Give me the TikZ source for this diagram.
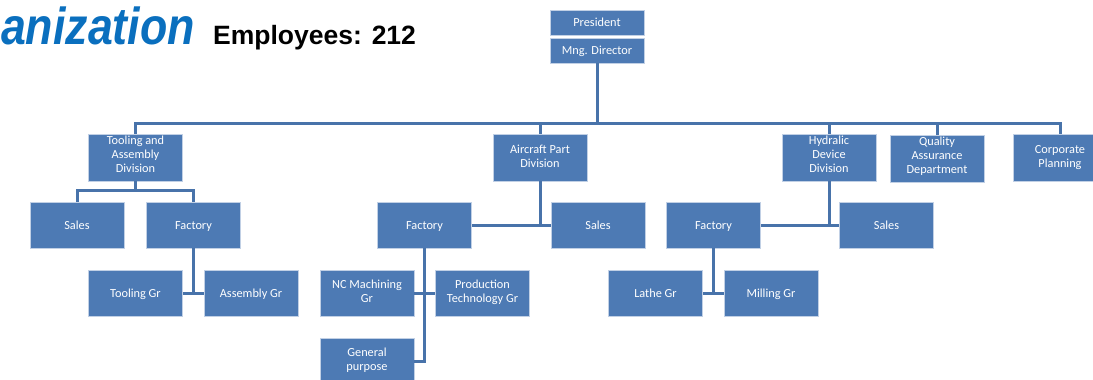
\documentclass[tikz,border=0pt]{standalone}
\usepackage{fontspec}
\setmainfont{Carlito}
\newfontfamily\arialfont{Liberation Sans}
\definecolor{boxblue}{HTML}{4D7AB4}
\definecolor{lineblue}{HTML}{4873AA}
\definecolor{titleblue}{HTML}{0A6FBE}
\tikzset{
  orgbox/.style={rectangle, fill=boxblue, draw=white!65!boxblue, line width=0.8pt,
    text=white, font=\fontsize{12.3}{14}\selectfont, align=center,
    minimum width=94pt, minimum height=46pt, inner sep=1pt,
    execute at begin node={\rule{0pt}{11.3pt}},
    execute at end node={\rule[-2.7pt]{0pt}{2.7pt}}},
  topbox/.style={orgbox, minimum height=25pt},
  divbox/.style={orgbox, minimum height=47pt},
  tribox/.style={divbox,
    execute at begin node={\rule{0pt}{9pt}},
    execute at end node={\rule[-6.6pt]{0pt}{6.6pt}}},
  conn/.style={draw=lineblue, line width=3pt, line join=miter}
}
\begin{document}
\begin{tikzpicture}[x=1pt,y=-1pt]
\useasboundingbox (0,0) rectangle (1093,380);
\fill[white] (0,0) rectangle (1093,380);
\clip (0,0) rectangle (1093,380);

% title
\node[anchor=base east, font=\arialfont\bfseries\itshape\fontsize{52}{60}\selectfont,
  text=titleblue, inner sep=0pt, xscale=0.86] (title) at (195,44) {anization};
\node[anchor=base west, font=\arialfont\bfseries\fontsize{26.5}{30}\selectfont,
  text=black, inner sep=0pt] (emp) at (213,44) {Employees: 212};

% top
\node[topbox] (pres) at (597,22.5) {President};
\node[topbox] (mng) at (597,50.5) {Mng. Director};

% divisions
\node[tribox] (tad) at (135.5,157.5) {Tooling and\\Assembly\\Division};
\node[divbox] (apd) at (540,157.5) {Aircraft Part\\Division};
\node[tribox] (hdd) at (829,157.5) {Hydralic\\Device\\Division};
\node[tribox] (qad) at (937,158.5) {Quality\\Assurance\\Department};
\node[divbox] (cpl) at (1060,157.5) {Corporate\\Planning};

% second level
\node[orgbox] (salesA) at (77,225) {Sales};
\node[orgbox] (facA) at (193.5,225) {Factory};
\node[orgbox] (facB) at (424.5,225) {Factory};
\node[orgbox] (salesB) at (598,225) {Sales};
\node[orgbox] (facC) at (713.5,225) {Factory};
\node[orgbox] (salesC) at (886.5,225) {Sales};

% third level
\node[orgbox] (toolgr) at (135.5,293) {Tooling Gr};
\node[orgbox] (assgr) at (251,293) {Assembly Gr};
\node[orgbox] (ncgr) at (367,293) {NC Machining\\Gr};
\node[orgbox] (ptgr) at (482.5,293) {Production\\Technology Gr};
\node[orgbox] (gpur) at (367,361) {General\\purpose};
\node[orgbox] (lathe) at (655.5,293) {Lathe Gr};
\node[orgbox] (mill) at (771,293) {Milling Gr};

% connectors: top
\draw[conn] (mng.south) -- ++(0,61);
\draw[conn] (tad.north) -- ++(0,-10) -| (cpl.north);
\draw[conn] (apd.north) -- (apd.north |- 0,124);
\draw[conn] (hdd.north) -- (hdd.north |- 0,124);
\draw[conn] (qad.north) -- (qad.north |- 0,124);

% tooling & assembly division
\draw[conn] (tad.south) -- ++(0,10);
\draw[conn] (salesA.north) -- ++(0,-11) -| (facA.north);
\draw[conn] (facA.south) -- (facA.south |- toolgr.east);
\draw[conn] (toolgr.east) -- (assgr.west);

% aircraft part division
\draw[conn] (apd.south) -- (apd.south |- facB.east);
\draw[conn] (facB.east) -- (salesB.west);
\draw[conn] (facB.south) |- (gpur.east);
\draw[conn] (ncgr.east) -- (ptgr.west);

% hydralic device division
\draw[conn] (hdd.south) -- (hdd.south |- facC.east);
\draw[conn] (facC.east) -- (salesC.west);
\draw[conn] (facC.south) -- (facC.south |- lathe.east);
\draw[conn] (lathe.east) -- (mill.west);
\end{tikzpicture}
\end{document}
